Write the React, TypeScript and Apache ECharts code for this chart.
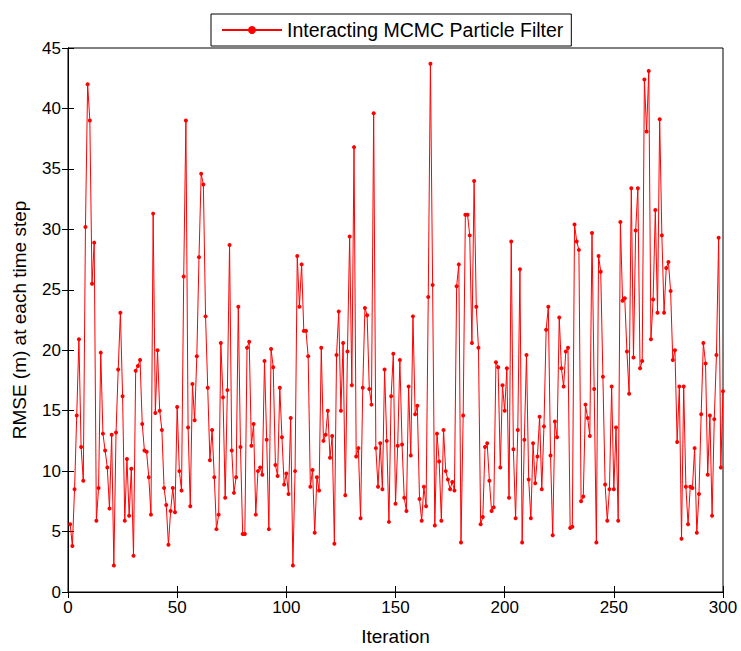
import React, { useEffect, useRef } from "react";
import * as echarts from "echarts";

const seriesName = "Interacting MCMC Particle Filter";
const xTitle = "Iteration";
const yTitle = "RMSE (m) at each time step";

const rmse1to50 = [
  5.6, 3.8, 8.5, 14.6, 20.9, 12.0, 9.2, 30.2, 42.0, 39.0, 25.5, 28.9, 5.9, 8.6, 19.8, 13.1, 11.7, 10.3, 6.9, 13.0, 2.2, 13.2, 18.4, 23.1, 16.2,
  5.9, 11.0, 6.3, 10.2, 3.0, 18.3, 18.7, 19.2, 13.9, 11.7, 11.6, 9.5, 6.4, 31.3, 14.8, 20.0, 15.0, 13.4, 8.6, 7.2, 3.9, 6.7, 8.6, 6.6, 15.3,
];
const rmse51to100 = [
  10.0, 8.4, 26.1, 39.0, 13.6, 7.1, 17.2, 14.2, 19.5, 27.7, 34.6, 33.7, 22.8, 16.9, 10.9, 13.4, 9.5, 5.2, 6.4, 20.6, 16.1, 7.8, 16.7, 28.7, 11.7,
  8.2, 9.5, 23.6, 12.0, 4.8, 4.8, 20.2, 20.7, 12.1, 13.9, 6.4, 10.0, 10.3, 9.7, 19.1, 12.6, 5.2, 20.1, 18.6, 10.5, 9.6, 16.9, 12.8, 8.9, 9.8,
];
const rmse101to150 = [
  8.1, 14.4, 2.2, 10.0, 27.8, 23.6, 27.1, 21.6, 21.6, 19.5, 8.7, 10.1, 4.9, 9.5, 8.4, 20.2, 12.5, 13.0, 15.0, 11.1, 12.9, 4.0, 19.6, 23.2, 15.0,
  20.6, 8.0, 19.9, 29.4, 17.1, 36.8, 11.2, 11.9, 6.1, 16.9, 23.5, 22.9, 16.8, 15.5, 39.6, 11.9, 8.7, 12.3, 8.5, 18.4, 12.5, 5.8, 16.2, 19.7, 7.3,
];
const rmse151to200 = [
  12.1, 19.2, 12.2, 7.8, 6.7, 17.0, 11.3, 22.8, 14.7, 15.4, 7.7, 5.9, 8.7, 7.1, 24.4, 43.7, 25.4, 5.5, 13.1, 10.8, 5.9, 13.4, 10.0, 9.3, 8.5,
  9.1, 8.4, 25.3, 27.1, 4.1, 14.6, 31.2, 31.2, 29.5, 20.6, 34.0, 23.6, 20.2, 5.6, 6.2, 12.0, 12.3, 9.2, 6.7, 7.0, 19.0, 18.6, 10.3, 17.1, 15.0,
];
const rmse201to250 = [
  18.5, 7.8, 29.0, 11.8, 6.1, 13.4, 26.7, 4.1, 12.6, 19.6, 9.3, 6.1, 12.3, 9.0, 11.2, 14.5, 8.5, 13.7, 21.7, 23.6, 11.3, 4.7, 14.1, 12.8, 22.7,
  18.5, 17.0, 19.9, 20.2, 5.3, 5.4, 30.4, 29.0, 28.3, 7.5, 7.9, 15.5, 14.4, 12.9, 29.7, 16.8, 4.1, 27.8, 26.5, 17.8, 8.9, 5.9, 8.5, 17.0, 8.5,
];
const rmse251to300 = [
  13.6, 5.9, 30.6, 24.1, 24.3, 19.9, 16.4, 33.4, 19.4, 29.9, 33.4, 18.5, 19.1, 42.4, 38.1, 43.1, 20.9, 24.2, 31.6, 23.1, 39.1, 29.5, 23.1, 26.8, 27.3,
  24.9, 19.2, 20.0, 12.4, 17.0, 4.4, 17.0, 8.7, 5.6, 8.7, 8.6, 11.9, 4.9, 8.1, 14.7, 20.6, 18.9, 9.7, 14.6, 6.3, 14.3, 19.6, 29.3, 10.3, 16.6,
];

const rmse = [...rmse1to50, ...rmse51to100, ...rmse101to150, ...rmse151to200, ...rmse201to250, ...rmse251to300];

const FONT = "Liberation Sans, Arial, Helvetica, sans-serif";

export default function App() {
  const ref = useRef<HTMLDivElement>(null);
  useEffect(() => {
    if (!ref.current) return;
    const chart = echarts.init(ref.current, null, { renderer: "svg" });
    const data = rmse.map((v, i) => [i + 1, v]);
    const tickStyle = { show: true, inside: true, length: 6, lineStyle: { color: "#000", width: 1 } };
    chart.setOption({
      animation: false,
      backgroundColor: "#fff",
      textStyle: { fontFamily: FONT },
      grid: { left: 68, top: 48, width: 655, height: 549, show: true, borderColor: "#000", borderWidth: 1, backgroundColor: "#fff" },
      legend: {
        show: true,
        left: 211,
        top: 14,
        padding: [6, 8, 6, 10],
        itemWidth: 60,
        itemHeight: 10,
        itemGap: 5,
        borderColor: "#000",
        borderWidth: 1,
        backgroundColor: "#fff",
        borderRadius: 0,
        textStyle: { fontFamily: FONT, fontSize: 19.5, color: "#000" },
        data: [seriesName],
      },
      xAxis: [
        {
          type: "value",
          min: 0,
          max: 300,
          interval: 50,
          position: "bottom",
          name: xTitle,
          nameLocation: "middle",
          nameGap: 35,
          nameTextStyle: { fontFamily: FONT, fontSize: 19, color: "#000" },
          axisLine: { show: true, lineStyle: { color: "#000", width: 1 } },
          axisTick: tickStyle,
          axisLabel: { fontFamily: FONT, fontSize: 17, color: "#000", margin: 7 },
          splitLine: { show: false },
        },
        {
          type: "value",
          min: 0,
          max: 300,
          interval: 50,
          position: "top",
          axisLine: { show: true, lineStyle: { color: "#000", width: 1 } },
          axisTick: tickStyle,
          axisLabel: { show: false },
          splitLine: { show: false },
        },
      ],
      yAxis: [
        {
          type: "value",
          min: 0,
          max: 45,
          interval: 5,
          position: "left",
          name: yTitle,
          nameLocation: "middle",
          nameGap: 39,
          nameTextStyle: { fontFamily: FONT, fontSize: 19, color: "#000" },
          axisLine: { show: true, lineStyle: { color: "#000", width: 1 } },
          axisTick: tickStyle,
          axisLabel: { fontFamily: FONT, fontSize: 17, color: "#000", margin: 7 },
          splitLine: { show: false },
        },
        {
          type: "value",
          min: 0,
          max: 45,
          interval: 5,
          position: "right",
          axisLine: { show: true, lineStyle: { color: "#000", width: 1 } },
          axisTick: tickStyle,
          axisLabel: { show: false },
          splitLine: { show: false },
        },
      ],
      series: [
        {
          name: seriesName,
          type: "line",
          data,
          xAxisIndex: 0,
          yAxisIndex: 0,
          symbol: "circle",
          symbolSize: 4,
          showSymbol: true,
          color: "#ff0000",
          itemStyle: { color: "#ff0000" },
          lineStyle: { color: "#ff0000", width: 1 },
        },
      ],
    });
    return () => chart.dispose();
  }, []);
  return <div ref={ref} style={{ position: "absolute", left: 0, top: 0, width: 741, height: 651 }} />;
}
